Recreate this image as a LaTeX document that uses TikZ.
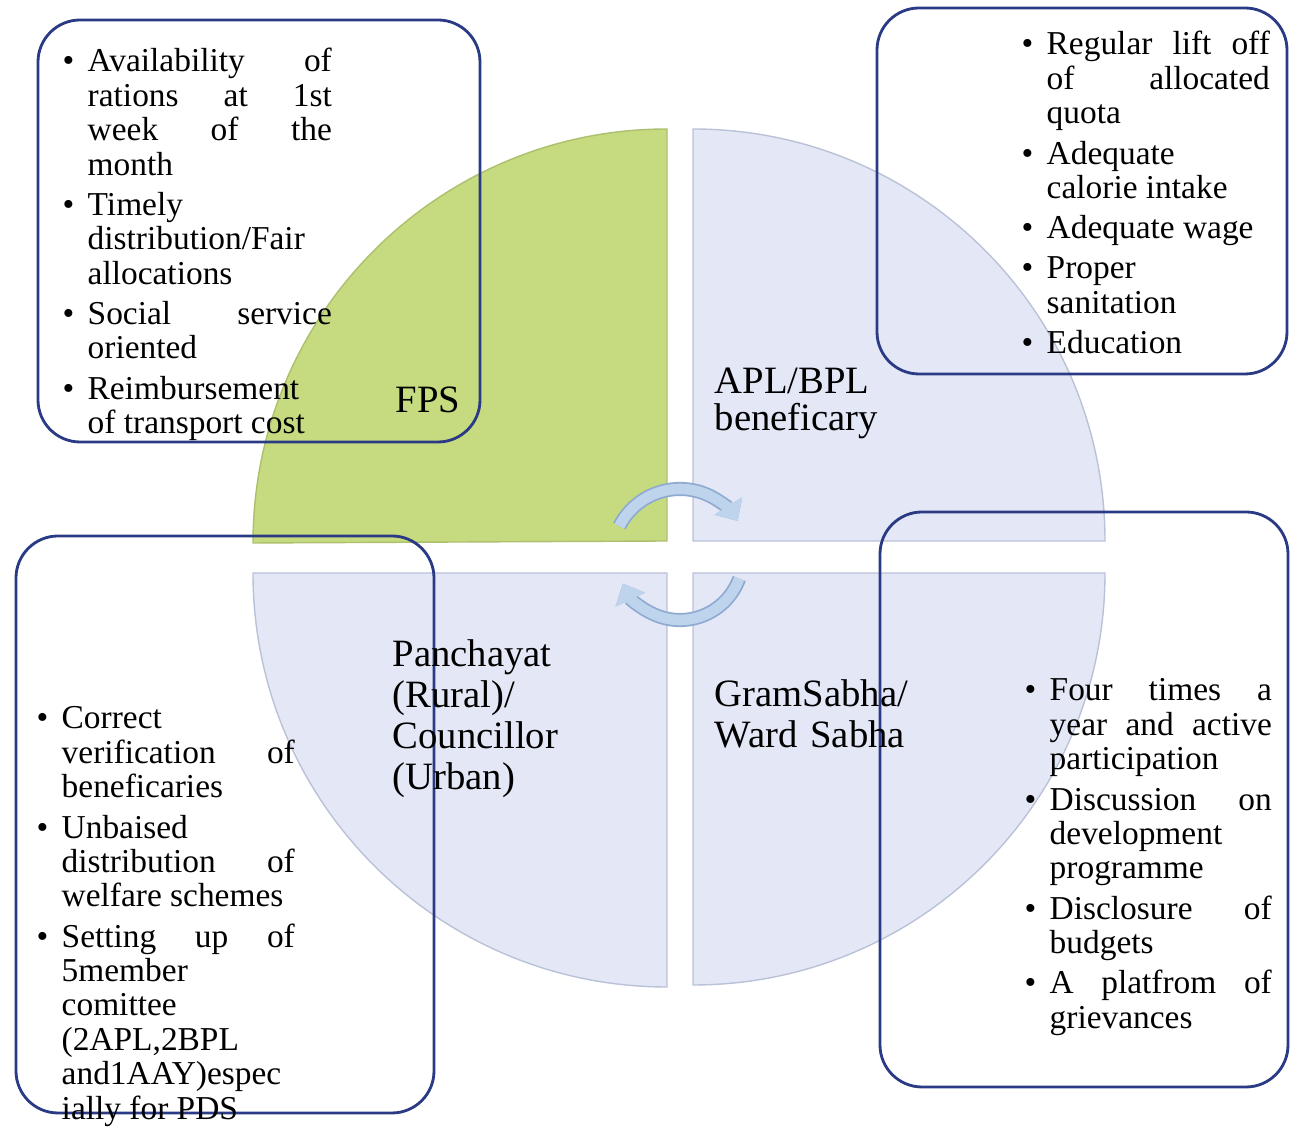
\documentclass[tikz,border=0pt]{standalone}
\usepackage{fontspec}
\setmainfont{Liberation Serif}
\usetikzlibrary{arrows.meta}

\definecolor{fpsgreen}{RGB}{198,218,128}
\definecolor{fpsedge}{RGB}{172,192,110}
\definecolor{quadblue}{RGB}{228,232,246}
\definecolor{quadedge}{RGB}{186,194,216}
\definecolor{boxblue}{RGB}{42,58,132}
\definecolor{turnfill}{RGB}{190,212,237}
\definecolor{turnedge}{RGB}{142,170,208}

% bullet items with hanging indent
\newlength\bulhang
\setlength\bulhang{0.25cm}
\newcommand\firstbul{\hangindent=\bulhang\hangafter=1\noindent\makebox[\bulhang][l]{\textbullet}\ignorespaces}
\newcommand\bul{\par\vskip1.6pt\firstbul}
\tolerance=10000
\hbadness=10000
\hyphenpenalty=10000
\exhyphenpenalty=10000

\begin{document}
\begin{tikzpicture} [
						x=0.01cm, y=0.01cm,
						quadrant/.style={draw=quadedge, line width=0.4pt},
						listbox/.style={draw=boxblue, line width=0.8pt, rounded corners=0.42cm},
						bullets/.style={anchor=base west, inner sep=0pt, align=justify, font=\fontsize{9.5}{9.8}\selectfont},
						quadlabel/.style={anchor=base west, inner sep=0pt, align=left, text width=2.4cm, font=\fontsize{11}{11.6}\selectfont},
						turn/.style={line width=3pt, draw=turnfill, preaction={draw=turnedge, line width=4pt}, -{Triangle[length=5pt, width=9pt]}}
					]

\useasboundingbox (0,0) rectangle (1290,1127);

% four quarters of the circle
\coordinate (hub) at (680,570);
\path[quadrant, fill=fpsgreen, draw=fpsedge] (667,586) -- (667,998) arc[start angle=90, end angle=180, radius=414] -- cycle;
\path[quadrant, fill=quadblue] (693,586) -- (1105,586) arc[start angle=0, end angle=90, radius=412] -- cycle;
\path[quadrant, fill=quadblue] (667,554) -- (253,554) arc[start angle=180, end angle=270, radius=414] -- cycle;
\path[quadrant, fill=quadblue] (693,554) -- (693,142) arc[start angle=270, end angle=360, radius=412] -- cycle;

% circular arrows
\draw[turn] ([shift={(153:68)}]hub) arc[start angle=153, end angle=32, radius=68];
\draw[turn] ([shift={(-20:63)}]hub) arc[start angle=-20, end angle=-155, radius=63];

% boxes
\draw[listbox] (38,685) rectangle (480,1107);
\draw[listbox] (877,753) rectangle (1287,1119);
\draw[listbox] (16,14) rectangle (434,591);
\draw[listbox] (880,40) rectangle (1288,615);

% labels
\node (fps) [quadlabel] at (395,714) {FPS};
\node (apl) [quadlabel, font=\fontsize{11}{10.3}\selectfont] at (714,733) {APL/BPL\\ beneficary};
\node (panchayat) [quadlabel] at (392,460) {Panchayat\\ (Rural)/\\ Councillor\\ (Urban)};
\node (gramsabha) [quadlabel] at (714,420) {GramSabha/\\ Ward Sabha};

% lists
\node (fpslist) [bullets, text width=2.69cm] at (62,1055) {\firstbul Availability of\linebreak rations at 1st\linebreak week of the\linebreak month
	\bul Timely\newline distribution/Fair\newline allocations
	\bul Social service\linebreak oriented
	\bul Reimbursement\newline of transport cost\par};
\node (apllist) [bullets, text width=2.48cm] at (1021,1072) {\firstbul Regular lift off\linebreak of allocated\linebreak quota
	\bul Adequate\newline calorie intake
	\bul Adequate wage
	\bul Proper\newline sanitation
	\bul Education\par};
\node (panchayatlist) [bullets, text width=2.58cm] at (36,398) {\firstbul Correct\newline verification of\linebreak beneficaries
	\bul Unbaised\newline distribution of\linebreak welfare schemes
	\bul Setting up of\linebreak 5member\newline comittee\newline (2APL,2BPL\newline and1AAY)espec\newline ially for PDS\par};
\node (gramsabhalist) [bullets, text width=2.47cm] at (1024,426) {\firstbul Four times a\linebreak year and active\linebreak participation
	\bul Discussion on\linebreak development\newline programme
	\bul Disclosure of\linebreak budgets
	\bul A platfrom of\linebreak grievances\par};
\end{tikzpicture}
\end{document}
